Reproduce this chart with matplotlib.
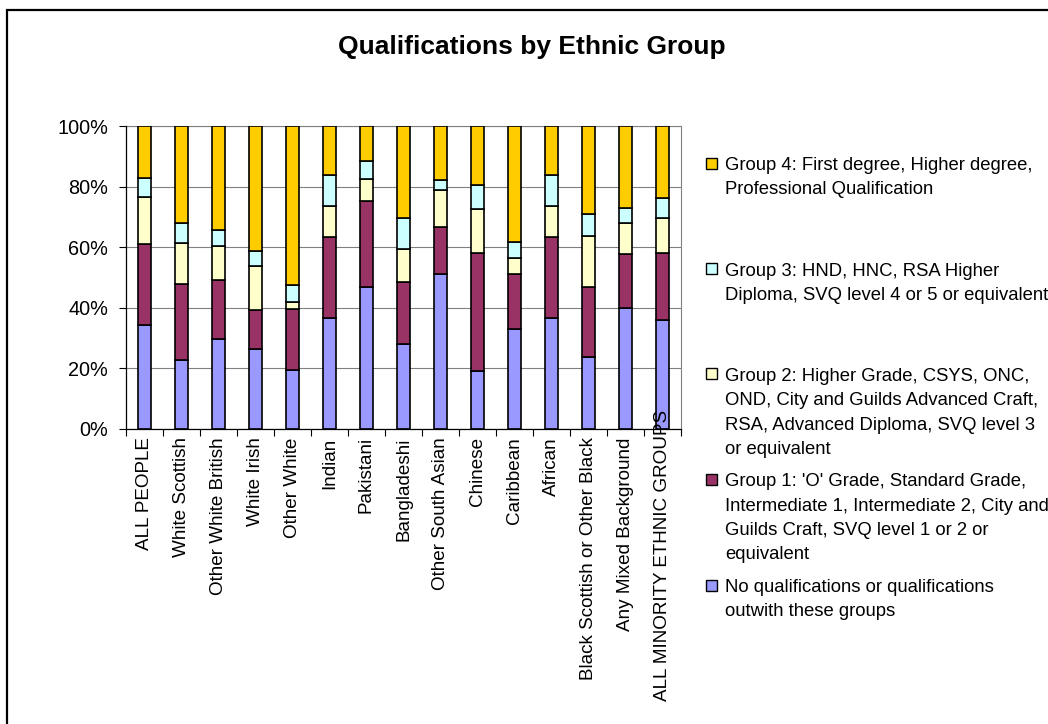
import matplotlib
matplotlib.use("Agg")
import matplotlib.pyplot as plt
import matplotlib.transforms as mtransforms
from matplotlib.patches import Rectangle
import numpy as np

plt.rcParams['font.family'] = ['Liberation Sans', 'DejaVu Sans']

categories = ["ALL PEOPLE", "White Scottish", "Other White British", "White Irish",
              "Other White", "Indian", "Pakistani", "Bangladeshi", "Other South Asian",
              "Chinese", "Caribbean", "African", "Black Scottish or Other Black",
              "Any Mixed Background", "ALL MINORITY ETHNIC GROUPS"]

no_qual = [34.3, 22.9, 29.7, 26.3, 19.5, 36.6, 46.8, 27.9, 51.3, 19.2, 33.0, 36.5, 23.8, 39.9, 35.9]
group1 = [26.6, 25.1, 19.4, 13.0, 20.0, 26.8, 28.6, 20.6, 15.4, 38.9, 18.3, 26.9, 23.0, 17.7, 22.2]
group2 = [15.6, 13.5, 11.3, 14.4, 2.3, 10.1, 7.2, 11.0, 12.1, 14.4, 5.3, 10.1, 17.0, 10.3, 11.6]
group3 = [6.2, 6.4, 5.3, 5.1, 5.7, 10.3, 5.9, 10.2, 3.4, 7.9, 5.0, 10.3, 7.0, 5.1, 6.7]
group4 = [17.3, 32.1, 34.3, 41.2, 52.5, 16.2, 11.5, 30.3, 17.8, 19.6, 38.4, 16.2, 29.2, 27.0, 23.6]

series_labels = [
    "No qualifications or qualifications\noutwith these groups",
    "Group 1: 'O' Grade, Standard Grade,\nIntermediate 1, Intermediate 2, City and\nGuilds Craft, SVQ level 1 or 2 or\nequivalent",
    "Group 2: Higher Grade, CSYS, ONC,\nOND, City and Guilds Advanced Craft,\nRSA, Advanced Diploma, SVQ level 3\nor equivalent",
    "Group 3: HND, HNC, RSA Higher\nDiploma, SVQ level 4 or 5 or equivalent",
    "Group 4: First degree, Higher degree,\nProfessional Qualification",
]
series_colors = ["#9999FF", "#993366", "#FFFFCC", "#CCFFFF", "#FFCC00"]
title = "Qualifications by Ethnic Group"
ytick_labels = ["0%", "20%", "40%", "60%", "80%", "100%"]

W, H = 1048, 724
fig = plt.figure(figsize=(W / 100, H / 100), dpi=100)
fig.patch.set_facecolor("white")

# outer chart border
fig.patches.append(Rectangle((7 / W, -0.1), 1.2, (H - 10 + 0.1 * H) / H,
                             transform=fig.transFigure, fill=False,
                             edgecolor="black", linewidth=1.6, clip_on=False))

left, right, top, bottom = 126, 681, 126, 429
ax = fig.add_axes([left / W, 1 - bottom / H, (right - left) / W, (bottom - top) / H])

series = [no_qual, group1, group2, group3, group4]
x = np.arange(len(categories))
base = np.zeros(len(categories))
for vals, col in zip(series, series_colors):
    vals = np.array(vals)
    ax.bar(x, vals, width=0.36, bottom=base, color=col, edgecolor="black",
           linewidth=1.2, zorder=3)
    base = base + vals

ax.set_xlim(-0.5, len(categories) - 0.5)
ax.set_ylim(0, 100)
ax.set_yticks(np.arange(0, 101, 20))
ax.set_yticklabels(ytick_labels, fontsize=14.3)
ax.yaxis.grid(True, color="#808080", linewidth=0.8, zorder=0)
ax.tick_params(axis="y", direction="out", length=5, width=0.8, pad=8, colors="black")

ax.set_xticks(x)
ax.set_xticklabels(categories, rotation=90, fontsize=13.6, va="top", ha="center")
ax.tick_params(axis="x", which="major", length=0, pad=6)
ax.set_xticks(np.arange(-0.5, len(categories), 1.0), minor=True)
ax.tick_params(axis="x", which="minor", direction="out", length=5, width=0.8)
ax.xaxis.set_zorder(5)

lbls = ax.get_xticklabels()
off = mtransforms.ScaledTranslation(0, 20 / 72, fig.dpi_scale_trans)
lbls[-1].set_transform(lbls[-1].get_transform() + off)

for s in ["top", "right"]:
    ax.spines[s].set_color("#808080")
    ax.spines[s].set_linewidth(0.8)
for s in ["left", "bottom"]:
    ax.spines[s].set_color("black")
    ax.spines[s].set_linewidth(0.9)
    ax.spines[s].set_zorder(5)

fig.text(532 / W, 1 - 47 / H, title, fontsize=19, fontweight="bold",
         ha="center", va="center")

# legend (Excel-style, evenly spaced entries, top entry = Group 4)
first_baseline = 170
entry_step = 105.5
line_step = 24.3
for i, (lab, col) in enumerate(zip(series_labels[::-1], series_colors[::-1])):
    yb = first_baseline + i * entry_step
    fig.patches.append(Rectangle((706 / W, 1 - (yb - 1.5) / H), 11 / W, 11 / H,
                                 transform=fig.transFigure, facecolor=col,
                                 edgecolor="black", linewidth=1.0))
    for j, line in enumerate(lab.split("\n")):
        fig.text(725 / W, 1 - (yb + j * line_step) / H, line, fontsize=13.3,
                 ha="left", va="baseline")

fig.savefig("out.png", dpi=100, facecolor="white")
